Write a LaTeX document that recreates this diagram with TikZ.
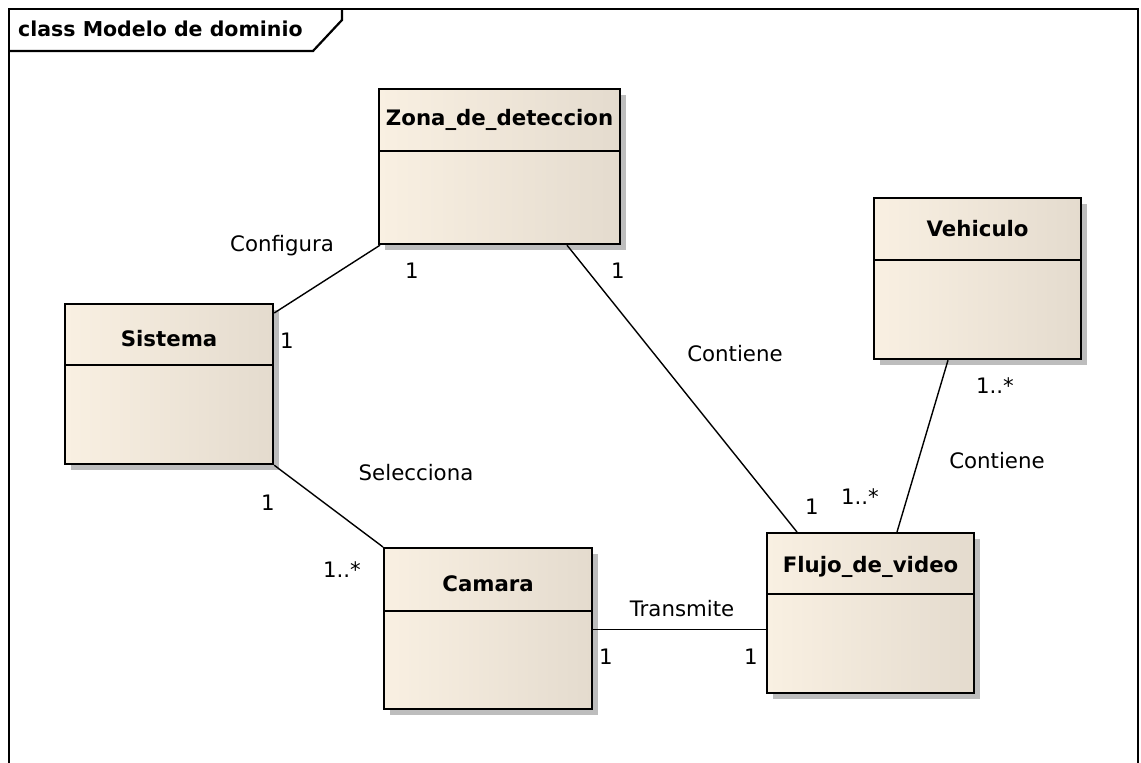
\documentclass[tikz,border=0pt]{standalone}
\usepackage{fontspec}
\setmainfont{DejaVu Sans}
\usetikzlibrary{calc,shadows}

\definecolor{boxleft}{HTML}{F9F0E2}
\definecolor{boxright}{HTML}{E4DBCE}
\definecolor{shadowgray}{HTML}{BDBDBD}

\tikzset{
  classbox/.style={rectangle, draw=black, line width=2.2pt, inner sep=0pt,
    anchor=north west, left color=boxleft, right color=boxright,
    drop shadow={shadow xshift=6pt, shadow yshift=-6pt, fill=shadowgray, opacity=1}},
  divider/.style={line width=1.8pt},
  ctitle/.style={font=\fontsize{21.3}{25}\selectfont\bfseries, inner sep=0pt},
  ftitle/.style={font=\fontsize{20.5}{24}\selectfont\bfseries, inner sep=0pt},
  lbl/.style={font=\fontsize{21.3}{25}\selectfont, inner sep=0pt},
  assoc/.style={line width=1.4pt},
  frameline/.style={line width=2.2pt},
}

\begin{document}
\begin{tikzpicture}[x=1pt, y=-1pt]
\useasboundingbox (0,0) rectangle (1141,763);

% diagram frame and its name tab
\draw[frameline] (9,763) -- (9,9) -- (1138,9) -- (1138,763);
\draw[frameline] (9,51) -- (313,51) -- (342,20) -- (342,9);
\node[ftitle, anchor=west] (frametitle) at (18,29) {class Modelo de dominio};

% classes
\node[classbox, minimum width=241, minimum height=155] (zona) at (378,88) {};
\draw[divider] (zona.west |- 0,151) -- (zona.east |- 0,151);
\node[ctitle] (zonat) at (zona.north |- 0,120) {Zona\_de\_deteccion};

\node[classbox, minimum width=207, minimum height=161] (veh) at (873,197) {};
\draw[divider] (veh.west |- 0,260) -- (veh.east |- 0,260);
\node[ctitle] (veht) at (veh.north |- 0,229) {Vehiculo};

\node[classbox, minimum width=208, minimum height=160] (sis) at (64,303) {};
\draw[divider] (sis.west |- 0,365) -- (sis.east |- 0,365);
\node[ctitle] (sist) at (sis.north |- 0,339) {Sistema};

\node[classbox, minimum width=208, minimum height=161] (cam) at (383,547) {};
\draw[divider] (cam.west |- 0,611) -- (cam.east |- 0,611);
\node[ctitle] (camt) at (cam.north |- 0,584) {Camara};

\node[classbox, minimum width=207, minimum height=160] (flujo) at (766,532) {};
\draw[divider] (flujo.west |- 0,594) -- (flujo.east |- 0,594);
\node[ctitle] (flujot) at (flujo.north |- 0,567) {Flujo\_de\_video};

% associations
\draw[assoc] ($(sis.north east)+(0,10)$) -- ($(zona.south west)+(2,0)$);
\draw[assoc] ($(zona.south west)+(189,0)$) -- ($(flujo.north west)+(31,0)$);
\draw[assoc] ($(veh.south west)+(75,0)$) -- ($(flujo.north west)+(131,0)$);
\draw[assoc] (sis.south east) -- (cam.north west);
\coordinate (camr) at ($(cam.east)+(0,1)$);
\draw[assoc] (camr) -- (flujo.west |- camr);

% association names
\node[lbl] (l1) at (282,246) {Configura};
\node[lbl] (l2) at (735,354) {Contiene};
\node[lbl] (l3) at (997,461) {Contiene};
\node[lbl] (l4) at (416,473) {Selecciona};
\node[lbl] (l5) at (682,609) {Transmite};

% multiplicities
\node[lbl] (m1) at (412,271) {1};
\node[lbl] (m2) at (287,341) {1};
\node[lbl] (m3) at (618,271) {1};
\node[lbl] (m4) at (812,507) {1};
\node[lbl] (m5) at (995,386) {1..*};
\node[lbl] (m6) at (860,497) {1..*};
\node[lbl] (m7) at (268,503) {1};
\node[lbl] (m8) at (342,570) {1..*};
\node[lbl] (m9) at (606,657) {1};
\node[lbl] (m10) at (751,657) {1};
\end{tikzpicture}
\end{document}
